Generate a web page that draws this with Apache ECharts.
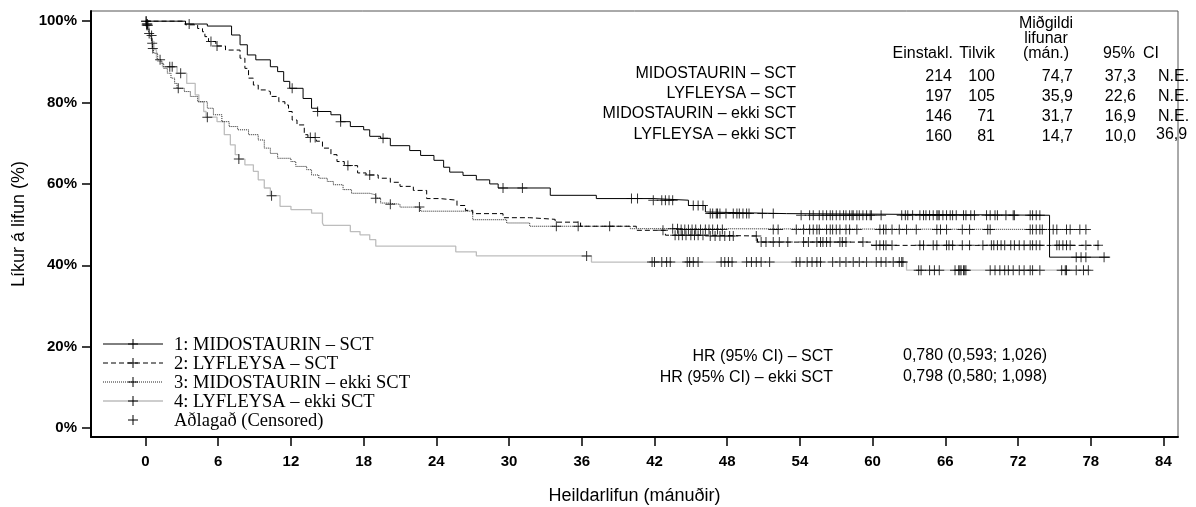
<!DOCTYPE html>
<html>
<head>
<meta charset="utf-8">
<script src="https://cdn.jsdelivr.net/npm/echarts@6/dist/echarts.min.js"></script>
<style>
html,body{margin:0;padding:0;background:#fff;}
#c{width:1196px;height:507px;}
</style>
</head>
<body>
<div id="c"></div>
<script>
// ---- data (months, survival %) ----
const seriesNames = ['1: MIDOSTAURIN \u2013 SCT','2: LYFLEYSA \u2013 SCT','3: MIDOSTAURIN \u2013 ekki SCT','4: LYFLEYSA \u2013 ekki SCT'];
const xTicks = [0,6,12,18,24,30,36,42,48,54,60,66,72,78,84];
const yTicks = [0,20,40,60,80,100];

const t1 = [0,3.3,5.1,7.1,7.8,8.4,9.1,10.3,10.9,11.4,11.9,13.0,13.7,14.2,15.3,16.1,16.9,18.0,18.5,19.4,20.2,21.8,22.7,23.8,24.6,25.1,26.2,27.3,28.4,29.1,33.4,37.2,41.9,44.8,46.2,46.3,52.9,74.6,79.6];
const s1 = [100,99.3,98.8,96.6,94.2,91.7,90.5,88.8,87.6,85.2,83.5,81.0,78.6,77.8,77.0,75.3,74.1,73.3,71.7,71.2,69.4,68.2,67.0,65.8,64.1,62.9,62.1,61.0,60.0,59.0,57.2,56.4,56.0,54.7,53.1,52.7,52.3,42.0,42.0];
const c1 = [3.6,12.1,14.2,16.1,19.6,29.5,31.1,40.1,40.6,41.9,42.6,42.9,43.2,43.5,45.2,45.6,46.0,46.6,46.8,47.1,47.2,47.4,47.9,48.5,48.8,49.0,49.3,49.6,49.8,50.9,51.8,54.1,54.8,55.1,55.6,55.9,56.2,56.5,56.7,57.0,57.3,57.6,57.8,58.1,58.3,58.4,58.7,58.9,59.2,59.5,59.8,59.9,60.7,62.4,62.7,62.9,63.3,63.9,64.2,64.4,64.7,65.0,65.3,65.4,65.5,65.8,66.1,66.4,66.6,66.9,67.5,67.7,68.1,68.4,69.4,69.7,70.1,70.3,71.0,71.6,71.7,73.0,73.2,73.5,73.8,76.8,77.2,77.6,79.1];

const t2 = [0,3.3,4.3,4.7,4.9,5.2,5.8,6.6,7.8,8.2,8.5,8.9,9.3,9.9,10.3,11.0,11.5,11.8,12.1,12.5,13.1,13.4,14.1,14.6,15.3,15.8,16.4,17.5,18.2,19.2,20.2,21.0,22.1,23.2,24.3,25.7,26.4,27.0,29.5,31.7,33.8,35.9,40.5,42.9,46.4,50.5,59.9,78.7];
const s2 = [100,99.1,98.2,97.4,96.2,95.0,93.9,92.9,90.9,88.4,86.0,84.3,83.1,82.7,81.5,80.2,79.4,77.8,75.7,74.5,72.1,71.4,70.5,68.8,67.2,65.5,64.5,62.7,62.2,61.4,60.4,59.4,58.4,56.4,56.0,54.7,53.5,52.7,51.7,51.3,50.6,49.6,48.6,47.4,47.2,45.7,44.9,44.9];
const c2 = [5.4,5.9,13.6,14.0,16.7,18.5,42.7,43.7,44.0,44.3,44.6,45.0,45.3,45.6,46.0,46.6,47.0,47.4,47.8,48.2,48.5,50.4,50.8,51.2,51.8,52.3,53.0,54.3,54.7,55.4,55.7,55.9,56.2,56.5,57.3,57.5,57.8,59.2,60.3,60.6,60.9,61.1,61.6,63.9,64.2,65.0,65.3,66.1,66.3,66.6,67.4,68.0,69.1,69.8,70.0,70.3,70.6,70.9,71.4,71.7,72.1,72.5,73.0,73.2,73.5,73.8,75.2,75.4,75.7,76.0,76.3,77.6,78.6];

const t3 = [0,0.1,0.25,0.4,0.55,0.6,0.7,1.0,1.3,1.5,1.8,2.1,2.4,2.6,3.2,3.7,4.3,5.1,5.6,6.3,6.9,7.6,8.5,9.3,9.8,10.3,10.9,12.0,12.4,13.3,13.7,14.3,15.0,15.5,16.3,17.0,18.5,19.0,19.4,20.0,21.0,22.7,27.0,29.8,31.7,40.0,44.0,77.9];
const s3 = [100,99.3,97.4,96.5,94.6,93.3,92.1,90.5,89.6,88.4,87.2,86.0,84.7,83.5,82.7,81.5,80.2,78.6,77.0,75.3,74.1,73.3,72.1,70.8,68.8,67.5,66.3,65.5,64.3,63.5,62.2,61.4,60.6,59.8,58.6,57.7,57.3,56.5,55.3,55.0,54.3,53.3,51.2,50.4,49.6,49.0,48.8,48.8];
const c3 = [0.05,0.1,0.15,0.5,0.55,0.6,1.2,2.7,19.0,20.2,22.6,33.9,35.7,38.3,43.5,43.9,44.2,44.5,44.8,45.1,45.4,45.8,46.2,46.5,46.8,47.2,47.6,51.8,52.2,53.7,54.3,54.8,55.1,55.4,55.6,56.2,56.5,56.7,57.0,57.3,57.8,58.1,58.7,60.6,60.9,61.1,61.6,62.2,62.8,63.6,65.3,65.6,66.1,67.4,68.0,69.5,69.7,73.0,73.2,73.5,73.8,74.0,74.9,75.2,76.0,76.3,77.1,77.6];

const t4 = [0,0.1,0.3,0.5,0.7,0.9,1.0,1.4,2.6,3.4,4.1,4.4,4.8,5.0,5.9,6.5,7.0,7.4,7.7,8.2,8.9,9.3,9.8,10.3,11.1,12.0,13.7,14.6,14.7,16.9,17.7,18.5,19.0,25.6,27.3,36.8,62.8,78.0];
const s4 = [100,99.0,97.0,95.0,93.0,91.0,90.1,88.8,87.2,84.7,81.9,80.2,77.8,76.4,75.3,72.1,69.6,67.2,66.1,64.7,63.1,61.0,59.0,57.1,54.5,53.7,52.8,50.4,49.8,48.3,47.5,46.3,44.7,43.3,42.3,40.8,38.8,38.8];
const c4 = [0.05,0.1,0.2,0.3,2.0,2.2,2.9,5.1,7.7,10.4,36.4,41.8,42.0,42.6,43.0,43.3,44.7,44.9,45.2,45.6,47.5,47.8,48.1,48.4,49.6,50.0,50.4,50.8,51.5,53.7,54.0,54.6,55.0,55.4,55.7,56.7,57.3,57.8,58.4,58.9,59.5,60.3,60.7,61.1,61.7,62.2,62.4,62.5,63.8,64.0,64.7,65.1,65.5,66.8,67.1,67.2,67.3,67.5,67.6,67.7,69.7,70.1,70.5,70.9,71.2,71.6,72.1,72.5,73.0,73.2,73.8,75.6,75.9,76.0,76.8,77.4,77.8];

// table
const tableLabels = ['MIDOSTAURIN \u2013 SCT','LYFLEYSA \u2013 SCT','MIDOSTAURIN \u2013 ekki SCT','LYFLEYSA \u2013 ekki SCT'];
const tableN = ['214','197','146','160'];
const tableEvents = ['100','105','71','81'];
const tableMedian = ['74,7','35,9','31,7','14,7'];
const tableLow = ['37,3','22,6','16,9','10,0'];
const tableHigh = ['N.E.','N.E.','N.E.','36,9'];
const hrLabels = ['HR (95% CI) \u2013 SCT','HR (95% CI) \u2013 ekki SCT'];
const hrValues = ['0,780 (0,593; 1,026)','0,798 (0,580; 1,098)'];

// ---- helpers ----
function pairs(t, s){ return t.map((v,i)=>[v, s[i]]); }
function lookup(t, s, x){ let v = s[0]; for (let i=0;i<t.length;i++){ if (t[i] <= x) v = s[i]; else break; } return v; }
const plusPath = 'path://M-0.1,-1 L0.1,-1 L0.1,-0.1 L1,-0.1 L1,0.1 L0.1,0.1 L0.1,1 L-0.1,1 L-0.1,0.1 L-1,0.1 L-1,-0.1 L-0.1,-0.1 Z';

const curves = [
  {t:t1,s:s1,c:c1,color:'#000',type:'solid',w:1},
  {t:t2,s:s2,c:c2,color:'#000',type:[5,3],w:1},
  {t:t3,s:s3,c:c3,color:'#222',type:[1,1],w:1},
  {t:t4,s:s4,c:c4,color:'#bdbdbd',type:'solid',w:1.3}
];

const series = [];
[3,2,1,0].forEach(i=>{
  const cv = curves[i];
  series.push({type:'line', name:seriesNames[i], step:'end', showSymbol:false, symbol:'none',
    data:pairs(cv.t, cv.s), lineStyle:{color:cv.color, width:cv.w, type:cv.type}, z:2+(3-i), silent:true, animation:false});
});
curves.forEach((cv,i)=>{
  series.push({type:'scatter', symbol:plusPath, symbolSize:10, itemStyle:{color:'#000'}, z:10, silent:true, animation:false,
    data: cv.c.map(x=>[x, lookup(cv.t, cv.s, x)])});
});

// ---- graphics: legend, table, HR ----
const FS = 'Liberation Sans, Arial, sans-serif';
const FT = 'Liberation Serif, Times New Roman, serif';
const g = [];
function txt(x,y,text,align,size,font){ g.push({type:'text', x:x, y:y, silent:true, style:{text:text, fill:'#000', font: (size||16)+'px '+(font||FS), textAlign:align||'left', textVerticalAlign:'middle'}}); }
function ln(x1,y1,x2,y2,stroke,w,dash){ g.push({type:'line', silent:true, shape:{x1:x1,y1:y1,x2:x2,y2:y2}, style:{stroke:stroke, lineWidth:w, lineDash:dash||null}}); }

const legY = [344,363,382,401,420];
const legStyles = [['#000',1,null],['#000',1,[5,3]],['#222',1,[1,1]],['#bdbdbd',1.3,null]];
for (let i=0;i<4;i++){
  ln(103,legY[i],163,legY[i],legStyles[i][0],legStyles[i][1],legStyles[i][2]);
  ln(133,legY[i]-5,133,legY[i]+5,'#000',1); ln(128,legY[i],138,legY[i],'#000',1);
  txt(174,legY[i]+1,seriesNames[i],'left',18.5,FT);
}
ln(133,legY[4]-5,133,legY[4]+5,'#000',1); ln(128,legY[4],138,legY[4],'#000',1);
txt(174,legY[4]+1,'A\u00f0laga\u00f0 (Censored)','left',18.5,FT);

// table header
txt(953,54,'Einstakl.','right');
txt(995,54,'Tilvik','right');
txt(1046,24,'Mi\u00f0gildi','center');
txt(1046,39,'lifunar','center');
txt(1046,54,'(m\u00e1n.)','center');
txt(1103,54,'95%','left');
txt(1143,54,'CI','left');
const rowLabY = [74,94,114,135];
const rowNumY = [77,97,117,137];
for (let i=0;i<4;i++){
  txt(796,rowLabY[i],tableLabels[i],'right');
  txt(952,rowNumY[i],tableN[i],'right');
  txt(995,rowNumY[i],tableEvents[i],'right');
  txt(1073,rowNumY[i],tableMedian[i],'right');
  txt(1136,rowNumY[i],tableLow[i],'right');
  txt(i===3?1156:1158,rowNumY[i]-(i===3?2:0),tableHigh[i],'left');
}
txt(833,357,hrLabels[0],'right');
txt(833,378,hrLabels[1],'right');
txt(903,356,hrValues[0],'left');
txt(903,377,hrValues[1],'left');

const option = {
  animation:false,
  backgroundColor:'#fff',
  grid:{left:91, top:11, right:18, bottom:70, outerBoundsMode:'none', containLabel:false, show:true, borderColor:'#555', borderWidth:1, backgroundColor:'transparent'},
  xAxis:{type:'value', min:-4.5, max:85.2,
    axisLine:{show:true, onZero:false, lineStyle:{color:'#000', width:2}},
    axisTick:{show:true, customValues:xTicks, length:9, lineStyle:{color:'#000', width:1.5}},
    axisLabel:{customValues:xTicks, margin:17, color:'#000', fontSize:15, fontWeight:'bold', fontFamily:FS},
    splitLine:{show:false},
    name:'Heildarlifun (m\u00e1nu\u00f0ir)', nameLocation:'middle', nameGap:50,
    nameTextStyle:{color:'#000', fontSize:18, fontFamily:FS}},
  yAxis:{type:'value', min:-2.2, max:102.5,
    axisLine:{show:true, onZero:false, lineStyle:{color:'#000', width:2}},
    axisTick:{show:true, customValues:yTicks, length:9, lineStyle:{color:'#000', width:1.5}},
    axisLabel:{customValues:yTicks, margin:14, color:'#000', fontSize:15, fontWeight:'bold', fontFamily:FS, formatter:v=>Math.round(v)+'%'},
    splitLine:{show:false},
    name:'L\u00edkur \u00e1 lifun (%)', nameLocation:'middle', nameGap:62,
    nameTextStyle:{color:'#000', fontSize:18, fontFamily:FS}},
  series:series,
  graphic:g
};
const chart = echarts.init(document.getElementById('c'), null, {renderer:'canvas'});
chart.setOption(option);
</script>
</body>
</html>
